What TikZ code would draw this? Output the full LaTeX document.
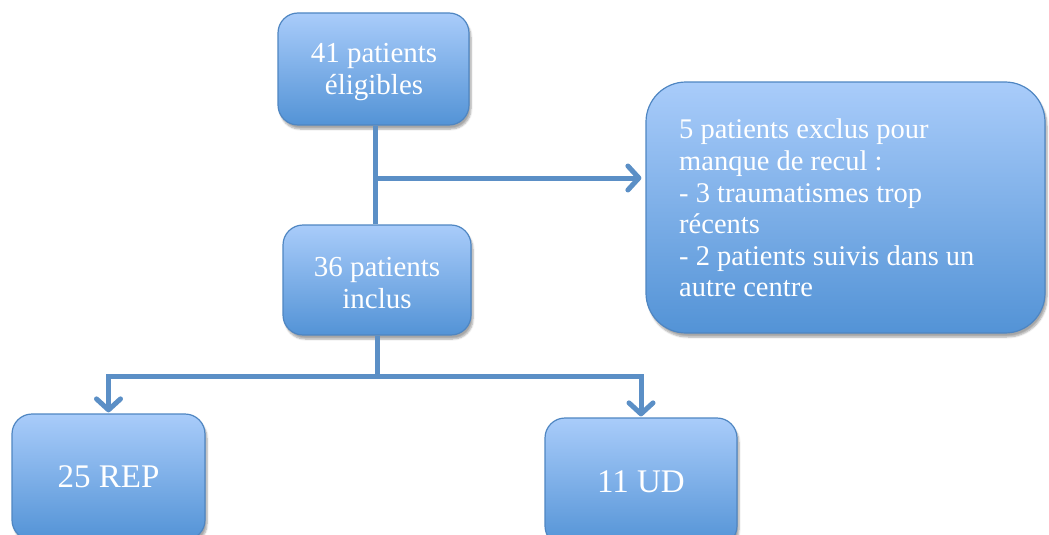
\documentclass[tikz,border=0pt]{standalone}
\usepackage{fontspec}
\setmainfont{Liberation Serif}
\usetikzlibrary{shadows.blur,arrows.meta,positioning}
\definecolor{boxtop}{HTML}{A9CCFA}
\definecolor{boxbot}{HTML}{5393D6}
\definecolor{boxline}{HTML}{4F86C2}
\definecolor{conn}{HTML}{5B8FC6}
\tikzset{
  flowbox/.style={draw=boxline, line width=1.2pt, rounded corners=20pt,
    top color=boxtop, bottom color=boxbot, text=white, align=center,
    font=\fontsize{29}{32}\selectfont,
    blur shadow={shadow xshift=2pt, shadow yshift=-4pt, shadow blur steps=6, shadow opacity=35},
    inner sep=0pt},
  conline/.style={draw=conn, line width=5pt},
  conarrow/.style={conline, -{Straight Barb[length=11pt,width=24pt,line width=5pt,round]}},
}
\begin{document}
\begin{tikzpicture}[x=1pt,y=-1pt]
\useasboundingbox (0,0) rectangle (1049,535);
\node[flowbox, minimum width=191pt, minimum height=112pt] (b1) at (373.5,69) {};
\node[text=white, align=center, font=\fontsize{29}{32}\selectfont, inner sep=0pt] (t1) at (374,72) {41 patients\\éligibles};
\node[flowbox, minimum width=188pt, minimum height=110pt] (b2) at (377,280) {};
\node[text=white, align=center, font=\fontsize{29}{32}\selectfont, inner sep=0pt] (t2) at (377,283) {36 patients\\inclus};
\node[flowbox, rounded corners=40pt, minimum width=399pt, minimum height=251pt] (b3) at (845.5,207.5) {};
\node[text=white, align=left, anchor=north west, inner sep=0pt, font=\fontsize{28.5}{31.6}\selectfont] (t3) at (679,119)
  {5 patients exclus pour\\manque de recul :\\- 3 traumatismes trop\\récents\\- 2 patients suivis dans un\\autre centre};
\node[flowbox, minimum width=193pt, minimum height=126pt, font=\fontsize{33}{40}\selectfont] (b4) at (108.5,477) {25 REP};
\node[flowbox, minimum width=192pt, minimum height=128pt, font=\fontsize{33}{40}\selectfont] (b5) at (641,482) {11 UD};
\coordinate (j1) at (375,178);
\coordinate (j2) at (377,376);
\draw[conline] (j1 |- b1.south) -- (j1 |- b2.north);
\draw[conarrow, shorten >=4pt] (j1) -- (b3.west |- j1);
\draw[conline] (b2.south) -- (j2);
\draw[conarrow, shorten >=1pt] (j2) -| (b4.north);
\draw[conarrow, shorten >=1pt] (j2) -| (b5.north);
\end{tikzpicture}
\end{document}
